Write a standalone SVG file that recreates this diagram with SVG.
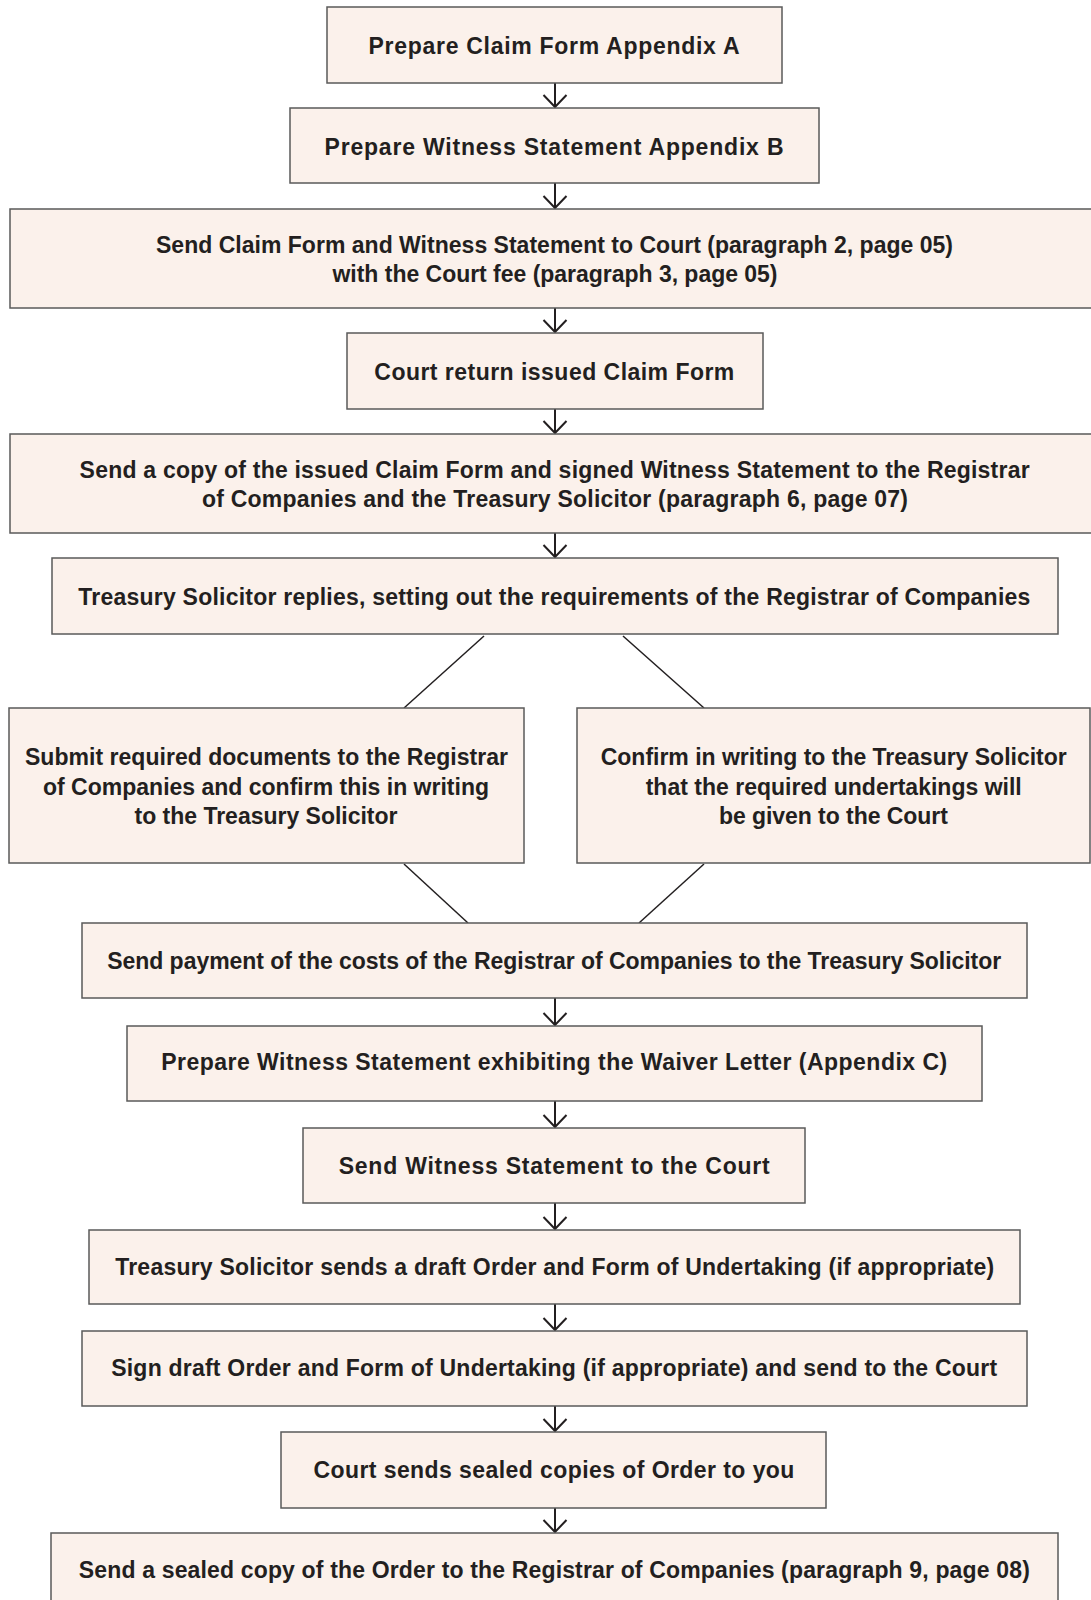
<svg xmlns="http://www.w3.org/2000/svg" width="1091" height="1600" viewBox="0 0 1091 1600">
<style>
.box{fill:#fbf1eb;stroke:#5a5a5a;stroke-width:1.5}
.t{font-family:"Liberation Sans",Arial,sans-serif;font-weight:bold;font-size:23px;fill:#231f20;text-anchor:middle}
.c{stroke:#231f20;stroke-width:2;fill:none}
.d{stroke:#231f20;stroke-width:1.5;fill:none}
</style>
<defs>
<marker id="ah" markerWidth="16" markerHeight="26" refX="14" refY="13" orient="auto" markerUnits="userSpaceOnUse" viewBox="0 0 16 26">
<path d="M2,1.5 L14,13 L2,24.5" fill="none" stroke="#231f20" stroke-width="2"/>
</marker>
</defs>
<rect width="1091" height="1600" fill="#ffffff"/>
<g id="connectors">
<line class="c" x1="555" y1="83" x2="555" y2="107" marker-end="url(#ah)"/>
<line class="c" x1="555" y1="183" x2="555" y2="208" marker-end="url(#ah)"/>
<line class="c" x1="555" y1="308" x2="555" y2="332" marker-end="url(#ah)"/>
<line class="c" x1="555" y1="409" x2="555" y2="433" marker-end="url(#ah)"/>
<line class="c" x1="555" y1="533" x2="555" y2="557" marker-end="url(#ah)"/>
<line class="d" x1="484" y1="636" x2="404" y2="708"/>
<line class="d" x1="623" y1="636" x2="704" y2="708"/>
<line class="d" x1="404" y1="864" x2="468" y2="923"/>
<line class="d" x1="704" y1="864" x2="639" y2="923"/>
<line class="c" x1="555" y1="998" x2="555" y2="1025" marker-end="url(#ah)"/>
<line class="c" x1="555" y1="1101" x2="555" y2="1127" marker-end="url(#ah)"/>
<line class="c" x1="555" y1="1203" x2="555" y2="1229" marker-end="url(#ah)"/>
<line class="c" x1="555" y1="1304" x2="555" y2="1330" marker-end="url(#ah)"/>
<line class="c" x1="555" y1="1406" x2="555" y2="1431" marker-end="url(#ah)"/>
<line class="c" x1="555" y1="1508" x2="555" y2="1532" marker-end="url(#ah)"/>
</g>
<g id="n1"><rect class="box" x="327" y="7" width="455" height="76"/>
<text class="t" x="554" y="54" textLength="371" lengthAdjust="spacing">Prepare Claim Form Appendix A</text></g>
<g id="n2"><rect class="box" x="290" y="108" width="529" height="75"/>
<text class="t" x="554" y="155" textLength="459" lengthAdjust="spacing">Prepare Witness Statement Appendix B</text></g>
<g id="n3"><rect class="box" x="10" y="209" width="1090" height="99"/>
<text class="t" x="554.5" y="253" textLength="797" lengthAdjust="spacing">Send Claim Form and Witness Statement to Court (paragraph 2, page 05)</text>
<text class="t" x="555" y="282" textLength="445" lengthAdjust="spacing">with the Court fee (paragraph 3, page 05)</text></g>
<g id="n4"><rect class="box" x="347" y="333" width="416" height="76"/>
<text class="t" x="554.3" y="380" textLength="360" lengthAdjust="spacing">Court return issued Claim Form</text></g>
<g id="n5"><rect class="box" x="10" y="434" width="1090" height="99"/>
<text class="t" x="554.6" y="478" textLength="950" lengthAdjust="spacing">Send a copy of the issued Claim Form and signed Witness Statement to the Registrar</text>
<text class="t" x="555" y="507" textLength="706" lengthAdjust="spacing">of Companies and the Treasury Solicitor (paragraph 6, page 07)</text></g>
<g id="n6"><rect class="box" x="52" y="558" width="1006" height="76"/>
<text class="t" x="554.3" y="605" textLength="952" lengthAdjust="spacing">Treasury Solicitor replies, setting out the requirements of the Registrar of Companies</text></g>
<g id="n7"><rect class="box" x="9" y="708" width="515" height="155"/>
<text class="t" x="266.5" y="765" textLength="483" lengthAdjust="spacing">Submit required documents to the Registrar</text>
<text class="t" x="266" y="795" textLength="446" lengthAdjust="spacing">of Companies and confirm this in writing</text>
<text class="t" x="266" y="824" textLength="263" lengthAdjust="spacing">to the Treasury Solicitor</text></g>
<g id="n8"><rect class="box" x="577" y="708" width="513" height="155"/>
<text class="t" x="833.7" y="765" textLength="466" lengthAdjust="spacing">Confirm in writing to the Treasury Solicitor</text>
<text class="t" x="833.7" y="795" textLength="376" lengthAdjust="spacing">that the required undertakings will</text>
<text class="t" x="833.4" y="824" textLength="229" lengthAdjust="spacing">be given to the Court</text></g>
<g id="n9"><rect class="box" x="82" y="923" width="945" height="75"/>
<text class="t" x="554.2" y="969" textLength="894" lengthAdjust="spacing">Send payment of the costs of the Registrar of Companies to the Treasury Solicitor</text></g>
<g id="n10"><rect class="box" x="127" y="1026" width="855" height="75"/>
<text class="t" x="554.2" y="1070" textLength="786" lengthAdjust="spacing">Prepare Witness Statement exhibiting the Waiver Letter (Appendix C)</text></g>
<g id="n11"><rect class="box" x="303" y="1128" width="502" height="75"/>
<text class="t" x="554.2" y="1174" textLength="431" lengthAdjust="spacing">Send Witness Statement to the Court</text></g>
<g id="n12"><rect class="box" x="89" y="1230" width="931" height="74"/>
<text class="t" x="554.7" y="1275" textLength="879" lengthAdjust="spacing">Treasury Solicitor sends a draft Order and Form of Undertaking (if appropriate)</text></g>
<g id="n13"><rect class="box" x="82" y="1331" width="945" height="75"/>
<text class="t" x="554.2" y="1376" textLength="886" lengthAdjust="spacing">Sign draft Order and Form of Undertaking (if appropriate) and send to the Court</text></g>
<g id="n14"><rect class="box" x="281" y="1432" width="545" height="76"/>
<text class="t" x="553.9" y="1478" textLength="481" lengthAdjust="spacing">Court sends sealed copies of Order to you</text></g>
<g id="n15"><rect class="box" x="51" y="1533" width="1007" height="80"/>
<text class="t" x="554.3" y="1578" textLength="951" lengthAdjust="spacing">Send a sealed copy of the Order to the Registrar of Companies (paragraph 9, page 08)</text></g>
</svg>
